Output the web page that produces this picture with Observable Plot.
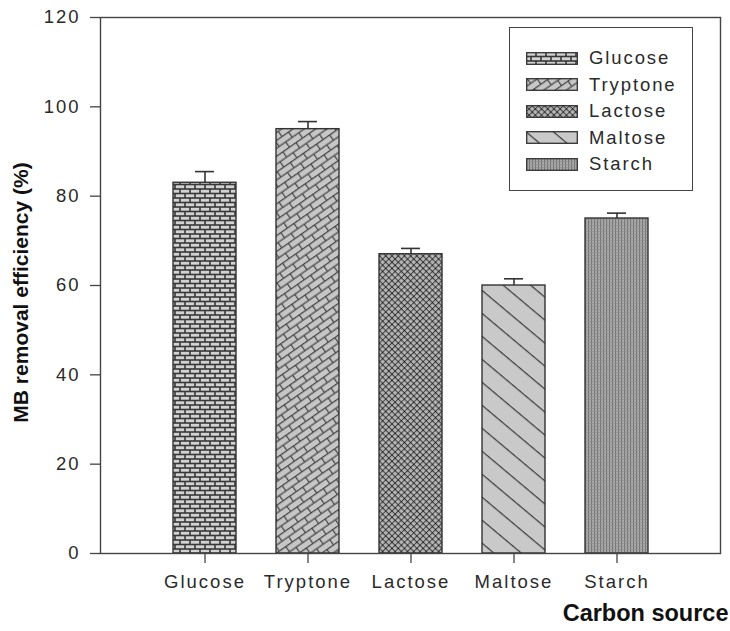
<!DOCTYPE html>
<html>
<head>
<meta charset="utf-8">
<script src="https://cdn.jsdelivr.net/npm/d3@7"></script>
<script src="https://cdn.jsdelivr.net/npm/@observablehq/plot@0.6"></script>
<style>
  html, body { margin: 0; padding: 0; background: #fff; }
  #wrap { position: relative; width: 730px; height: 631px; }
  #chart svg { font-family: "Liberation Sans", Arial, sans-serif; color: #222; }
  #chart g[aria-label="x-axis tick label"] text,
  #chart g[aria-label="y-axis tick label"] text { font-size: 18.5px; letter-spacing: 2px; fill: #2a2a2a; }
  #legend {
    position: absolute; left: 509px; top: 27px; width: 184px; height: 164px;
    border: 1.3px solid #444; background: #fff; box-sizing: border-box;
    font-family: "Liberation Sans", Arial, sans-serif; font-size: 18.5px; letter-spacing: 1.9px; color: #2a2a2a;
  }
  #legend .row { position: absolute; left: 16px; height: 20px; display: flex; align-items: center; }
  #legend svg { display: block; margin-right: 11px; }
</style>
</head>
<body>
<!-- shared hatch patterns for the bars and the legend swatches -->
<svg width="0" height="0" style="position:absolute">
  <defs>
    <pattern id="pat-glucose" patternUnits="userSpaceOnUse" width="10" height="9">
      <rect width="10" height="9" fill="#383838"/>
      <rect x="0.8" y="0.8" width="8.4" height="2.9" fill="#d2d2d2"/>
      <rect x="-4.2" y="5.3" width="8.4" height="2.9" fill="#d2d2d2"/>
      <rect x="5.8" y="5.3" width="8.4" height="2.9" fill="#d2d2d2"/>
    </pattern>
    <pattern id="pat-tryptone" patternUnits="userSpaceOnUse" width="16" height="13" patternTransform="rotate(-35)">
      <rect width="16" height="13" fill="#c6c6c6"/>
      <path d="M0,0.6H16M0,7.1H16M0.6,0V7.1M8.6,7.1V13" stroke="#444" stroke-width="1.2" fill="none"/>
    </pattern>
    <pattern id="pat-lactose" patternUnits="userSpaceOnUse" width="4.4" height="4.4" patternTransform="rotate(45)">
      <rect width="4.4" height="4.4" fill="#b6b6b6"/>
      <path d="M0,0.5H4.4M0.5,0V4.4" stroke="#444" stroke-width="1"/>
      <rect x="0" y="0" width="1.2" height="1.2" fill="#1a1a1a"/>
    </pattern>
    <pattern id="pat-maltose" patternUnits="userSpaceOnUse" width="17.6" height="17.6" patternTransform="rotate(40)">
      <rect width="17.6" height="17.6" fill="#c9c9c9"/>
      <path d="M0,0.6H17.6" stroke="#3a3a3a" stroke-width="1.2"/>
    </pattern>
    <pattern id="pat-starch" patternUnits="userSpaceOnUse" width="3" height="3">
      <rect width="3" height="3" fill="#ababab"/>
      <rect x="0" width="1.1" height="3" fill="#747474"/>
      <rect x="0" y="0" width="3" height="0.7" fill="#8f8f8f"/>
    </pattern>
  </defs>
</svg>

<div id="wrap">
  <div id="chart"></div>
  <div id="legend"></div>
</div>

<script>
// Carbon source categories and measured MB removal efficiency (%)
const carbonSources = ["Glucose", "Tryptone", "Lactose", "Maltose", "Starch"];
const removal = [83, 95, 67, 60, 75];
const errorUp = [2.5, 1.7, 1.3, 1.5, 1.2];
const patternIds = ["pat-glucose", "pat-tryptone", "pat-lactose", "pat-maltose", "pat-starch"];
const yTicks = [0, 20, 40, 60, 80, 100, 120];

const data = carbonSources.map((name, i) => ({
  name,
  value: removal[i],
  top: removal[i] + errorUp[i],
  fill: `url(#${patternIds[i]})`
}));

const chart = Plot.plot({
  width: 730,
  height: 631,
  marginTop: 17,
  marginBottom: 78,
  marginLeft: 100,
  marginRight: 10,
  x: { domain: carbonSources, paddingInner: 0.39, paddingOuter: 0.7, label: null },
  y: { domain: [0, 120], label: null },
  color: { type: "identity" },
  marks: [
    Plot.barY(data, { x: "name", y: "value", fill: "fill", stroke: "#333", strokeWidth: 1.4 }),
    Plot.ruleX(data, { x: "name", y1: "value", y2: "top", stroke: "#333", strokeWidth: 1.6 }),
    Plot.tickY(data, { x: "name", y: "top", insetLeft: 22, insetRight: 22, stroke: "#333", strokeWidth: 1.6 }),
    Plot.axisY({ ticks: yTicks, tickSize: 10, tickPadding: 10, label: null, stroke: "#444", strokeWidth: 1.3 }),
    Plot.axisX({ tickSize: 10, tickPadding: 11, label: null, stroke: "#444", strokeWidth: 1.3 }),
    Plot.frame({ stroke: "#444", strokeWidth: 1.4 }),
    Plot.text(["MB removal efficiency (%)"], {
      frameAnchor: "left", textAnchor: "middle", rotate: -90, dx: -79, dy: 7,
      fontSize: 21, fontWeight: "bold", fill: "#111"
    }),
    Plot.text(["Carbon source"], {
      frameAnchor: "bottom-right", textAnchor: "end", dx: 8, dy: 67,
      fontSize: 23.5, fontWeight: "bold", fill: "#111"
    })
  ]
});
document.getElementById("chart").append(chart);

// Legend: pattern swatch + category name, one row per carbon source
const legend = d3.select("#legend");
carbonSources.forEach((name, i) => {
  const row = legend.append("div").attr("class", "row").style("top", `${20 + i * 26.5}px`);
  const sw = row.append("svg").attr("width", 52).attr("height", 13);
  sw.append("rect").attr("x", 0.7).attr("y", 0.7).attr("width", 50.6).attr("height", 11.6)
    .attr("fill", `url(#${patternIds[i]})`).attr("stroke", "#333").attr("stroke-width", 1.3);
  row.append("span").text(name);
});
</script>
</body>
</html>
